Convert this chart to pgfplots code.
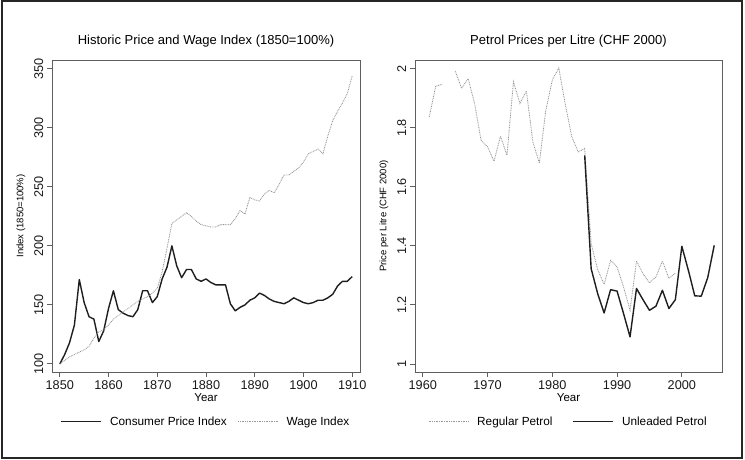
\documentclass[border=0pt]{standalone}
\usepackage{fontspec}
\setmainfont{Liberation Sans}
\usepackage{pgfplots}
\pgfplotsset{compat=1.18}
\definecolor{axgray}{RGB}{95,95,95}
\definecolor{dotgray}{RGB}{150,150,150}
\definecolor{linedark}{RGB}{30,30,30}
\pgfplotsset{
  stataax/.style={
    scale only axis, width=308pt, height=312pt, anchor=south west,
    axis line style={axgray, line width=1pt},
    every tick/.style={axgray, line width=1pt},
    tick align=outside, major tick length=5pt,
    xtick pos=bottom, ytick pos=left,
    /pgf/number format/assume math mode=true,
    /pgf/number format/1000 sep={},
    tick label style={font=\fontsize{12.7}{14}\selectfont, text=black!90},
    yticklabel style={rotate=90, anchor=base},
    yticklabel shift=4pt,
    title style={font=\fontsize{13}{15}\selectfont, at={(axis description cs:0.5,1.029)}, anchor=base},
    xlabel style={font=\fontsize{11.5}{13}\selectfont, at={(axis description cs:0.5,-0.093)}, anchor=base},
    ylabel style={font=\fontsize{9.5}{11}\selectfont, at={(axis description cs:-0.093,0.5)}, anchor=base},
    legend style={at={(0.5,-0.159)}, anchor=center, draw=none, fill=none,
      legend columns=2, font=\fontsize{11.8}{13}\selectfont,
      /tikz/every odd column/.append style={column sep=6pt}},
    legend image code/.code={\draw[#1] (0pt,0pt) -- (40pt,0pt);},
    solidline/.style={linedark, line width=1.4pt, line join=round},
    dotline/.style={dotgray, line width=0.85pt, dash pattern=on 0.85pt off 0.85pt},
  }
}
\begin{document}
\begin{tikzpicture}
\useasboundingbox (0,0) rectangle (745pt,459pt);
\draw[line width=2pt, black!85] (1.5pt,1.5pt) rectangle (742pt,457.5pt);
\begin{axis}[stataax, at={(52pt,87pt)},
  xmin=1848.4, xmax=1911.6, ymin=93.2, ymax=357.4,
  xtick={1850,1860,...,1910}, ytick={100,150,...,350},
  legend style={/tikz/every even column/.append style={column sep=9pt}},
  title={Historic Price and Wage Index (1850=100\%)},
  xlabel={Year}, ylabel={Index (1850=100\%)}]
\addplot[solidline] coordinates {
(1850,100)(1851,108)(1852,118)(1853,133)(1854,171.5)(1855,152)(1856,140)(1857,138)
(1858,119)(1859,128)(1860,147)(1861,162)(1862,146)(1863,143)(1864,141)(1865,140)
(1866,146)(1867,162)(1868,162)(1869,152)(1870,157)(1871,172)(1872,182)(1873,200)
(1874,183)(1875,173)(1876,180)(1877,180)(1878,172)(1879,170)(1880,172)(1881,169)
(1882,167)(1883,167)(1884,167)(1885,151)(1886,145)(1887,148)(1888,150)(1889,154)
(1890,156)(1891,160)(1892,158)(1893,155)(1894,153)(1895,152)(1896,151)(1897,153)
(1898,156)(1899,154)(1900,152)(1901,151)(1902,152)(1903,154)(1904,154)(1905,156)
(1906,159)(1907,166)(1908,170)(1909,170)(1910,174)};
\addlegendentry{Consumer Price Index}
\addplot[dotline] coordinates {
(1850,100)(1851,103)(1852,106)(1853,108)(1854,110)(1855,112)(1856,115)(1857,122)
(1858,127)(1859,129)(1860,133)(1861,138)(1862,141)(1863,144)(1864,147)(1865,150)
(1866,153)(1867,155)(1868,157)(1869,160)(1870,164)(1871,178)(1872,198)(1873,219)
(1874,222)(1875,225)(1876,228)(1877,225)(1878,221)(1879,218)(1880,217)(1881,216)
(1882,216)(1883,218)(1884,218)(1885,218)(1886,223)(1887,230)(1888,227)(1889,241)
(1890,239)(1891,238)(1892,244)(1893,247)(1894,245)(1895,252)(1896,260)(1897,260)
(1898,263)(1899,266)(1900,271)(1901,278)(1902,280)(1903,282)(1904,278)(1905,293)
(1906,306)(1907,314)(1908,321)(1909,329)(1910,344)};
\addlegendentry{Wage Index}
\end{axis}
\begin{axis}[stataax, at={(415pt,87pt)}, width=307pt,
  xmin=1958.8, xmax=2006.2, ymin=0.973, ymax=2.03,
  xtick={1960,1970,...,2000}, ytick={1,1.2,...,2.01},
  legend style={/tikz/every even column/.append style={column sep=18pt}},
  unbounded coords=jump,
  title={Petrol Prices per Litre (CHF 2000)},
  xlabel={Year}, ylabel={Price per Litre (CHF 2000)}]
\addplot[dotline] coordinates {
(1961,1.837)(1962,1.941)(1963,1.948)(1964,nan)(1965,1.993)(1966,1.934)(1967,1.967)
(1968,1.883)(1969,1.758)(1970,1.736)(1971,1.687)(1972,1.772)(1973,1.707)(1974,1.956)
(1975,1.883)(1976,1.925)(1977,1.752)(1978,1.681)(1979,1.860)(1980,1.962)(1981,2.003)
(1982,1.88)(1983,1.770)(1984,1.719)(1985,1.73)(1986,1.408)(1987,1.32)(1988,1.27)
(1989,1.351)(1990,1.329)(1991,1.261)(1992,1.182)(1993,1.349)(1994,1.306)(1995,1.275)
(1996,1.295)(1997,1.349)(1998,1.29)(1999,1.308)};
\addlegendentry{Regular Petrol}
\addplot[solidline] coordinates {
(1985,1.707)(1986,1.323)(1987,1.239)(1988,1.173)(1989,1.252)(1990,1.247)(1991,1.171)
(1992,1.092)(1993,1.256)(1994,1.218)(1995,1.182)(1996,1.196)(1997,1.250)(1998,1.188)
(1999,1.218)(2000,1.399)(2001,1.318)(2002,1.231)(2003,1.230)(2004,1.293)(2005,1.402)};
\addlegendentry{Unleaded Petrol}
\end{axis}
\end{tikzpicture}
\end{document}
